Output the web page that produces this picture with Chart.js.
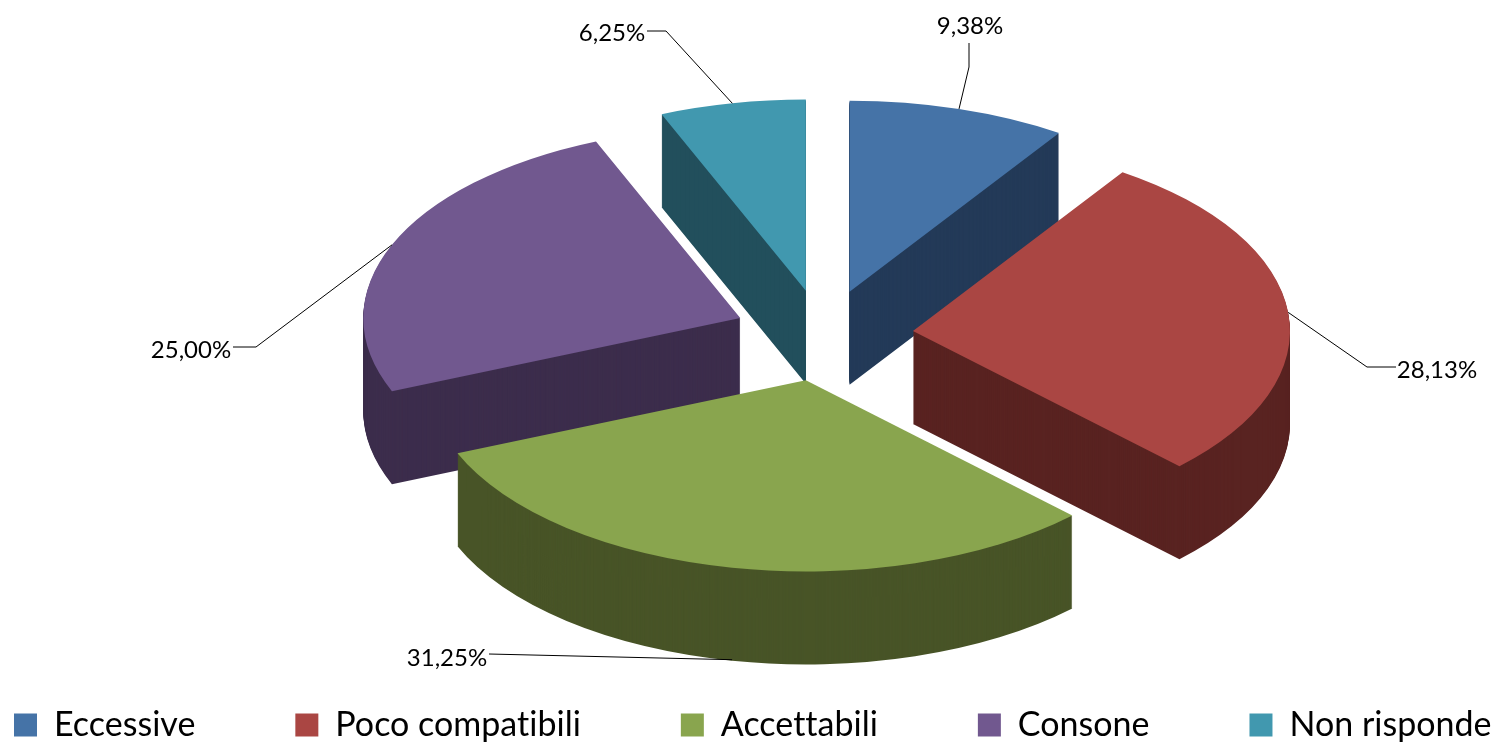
<!DOCTYPE html>
<html><head><meta charset="utf-8">
<style>html,body{margin:0;padding:0;background:#fff;overflow:hidden}#w{width:1494px;height:746px}</style>
<script src="https://cdn.jsdelivr.net/npm/chart.js@4"></script>
</head><body><div id="w"><canvas id="c" width="1494" height="746"></canvas></div>
<script>
const categories = ["Eccessive","Poco compatibili","Accettabili","Consone","Non risponde"];
const values = [9.38,28.13,31.25,25.00,6.25];
const topColors = ["#4573A7","#AA4643","#89A54E","#71588F","#4198AF"];
const wallColors = ["#233A58","#592321","#485427","#3C2D4C","#224F5C"];
const drawOrder = [0,4,3,1,2];
const PIE = {cx:823.4, cy:335.5, r:377, squash:0.507, explode:90, depth:93};
const LABEL_FONT = '24px Lato';
const LEGEND_X = 14, LEGEND_SHIFT = 6;
// leader routes (elbow points) and label centres in page pixels
const leaderPts = [[[969,67],[969,43]],[[1367,367],[1396,367]],[[489,654]],[[256,347],[233,347]],[[666,31],[647,31]]];
const labelPos = [[970,26],[1437,370],[447,658],[191,350],[612,33]];
const fmt = v => v.toFixed(2).replace('.',',') + '%';

const pie3d = {
  id:'pie3d',
  beforeUpdate(chart){
    chart.ctx.letterSpacing = '0.01px';
    const lg = chart.legend;
    if (lg && !lg.__wrapped){
      const f = lg.fit;
      lg.fit = function(){ const m=this.maxWidth; this.maxWidth=99999; f.call(this); this.maxWidth=m; this.width=m; };
      lg.__wrapped = true;
    }
  },
  afterLayout(chart){
    const lg = chart.legend, p = lg.options.labels.padding;
    lg.left = LEGEND_X - p;
    lg.right = 99999;
    lg.top += LEGEND_SHIFT; lg.bottom += LEGEND_SHIFT;
  },
  beforeDatasetsDraw(chart){
    const ctx = chart.ctx, arcs = chart.getDatasetMeta(0).data;
    const paint = (arc,color,dy) => {
      const h = (arc.startAngle+arc.endAngle)/2;
      const o = arc.options;
      arc.options = {backgroundColor:color,borderColor:color,borderWidth:0,borderAlign:'center',borderJoinStyle:'round',borderRadius:0,offset:0,spacing:0,circular:true};
      ctx.save();
      ctx.translate(PIE.cx+Math.cos(h)*PIE.explode, PIE.cy+Math.sin(h)*PIE.explode*PIE.squash+dy);
      ctx.scale(1,PIE.squash);
      ctx.translate(-arc.x,-arc.y);
      arc.draw(ctx);
      ctx.restore();
      arc.options = o;
    };
    drawOrder.forEach(i=>{
      for(let k=PIE.depth;k>=1;k--) paint(arcs[i],wallColors[i],k);
      paint(arcs[i],topColors[i],0);
    });
    ctx.save();
    ctx.strokeStyle='#000'; ctx.lineWidth=1;
    ctx.fillStyle='#000'; ctx.font=LABEL_FONT; ctx.textAlign='center'; ctx.textBaseline='middle';
    arcs.forEach((arc,i)=>{
      const h=(arc.startAngle+arc.endAngle)/2;
      const ox=PIE.cx+Math.cos(h)*PIE.explode, oy=PIE.cy+Math.sin(h)*PIE.explode*PIE.squash;
      const ax=ox+Math.cos(h)*PIE.r, ay=oy+Math.sin(h)*PIE.r*PIE.squash+(Math.sin(h)>0?PIE.depth-1:0);
      ctx.beginPath(); ctx.moveTo(ax,ay);
      leaderPts[i].forEach(p=>ctx.lineTo(p[0],p[1]));
      ctx.stroke();
      ctx.fillText(fmt(values[i]),labelPos[i][0],labelPos[i][1]);
    });
    ctx.restore();
    return false;
  }
};

new Chart(document.getElementById('c'),{
  type:'pie',
  data:{labels:categories,datasets:[{data:values,backgroundColor:topColors,borderWidth:0}]},
  options:{
    responsive:false,animation:false,
    radius:377,
    plugins:{
      tooltip:{enabled:false},
      legend:{position:'bottom',align:'start',
        labels:{boxWidth:23,boxHeight:23,padding:100,color:'#000',font:{family:'Lato',size:34}}}
    }
  },
  plugins:[pie3d]
});
</script></body></html>
